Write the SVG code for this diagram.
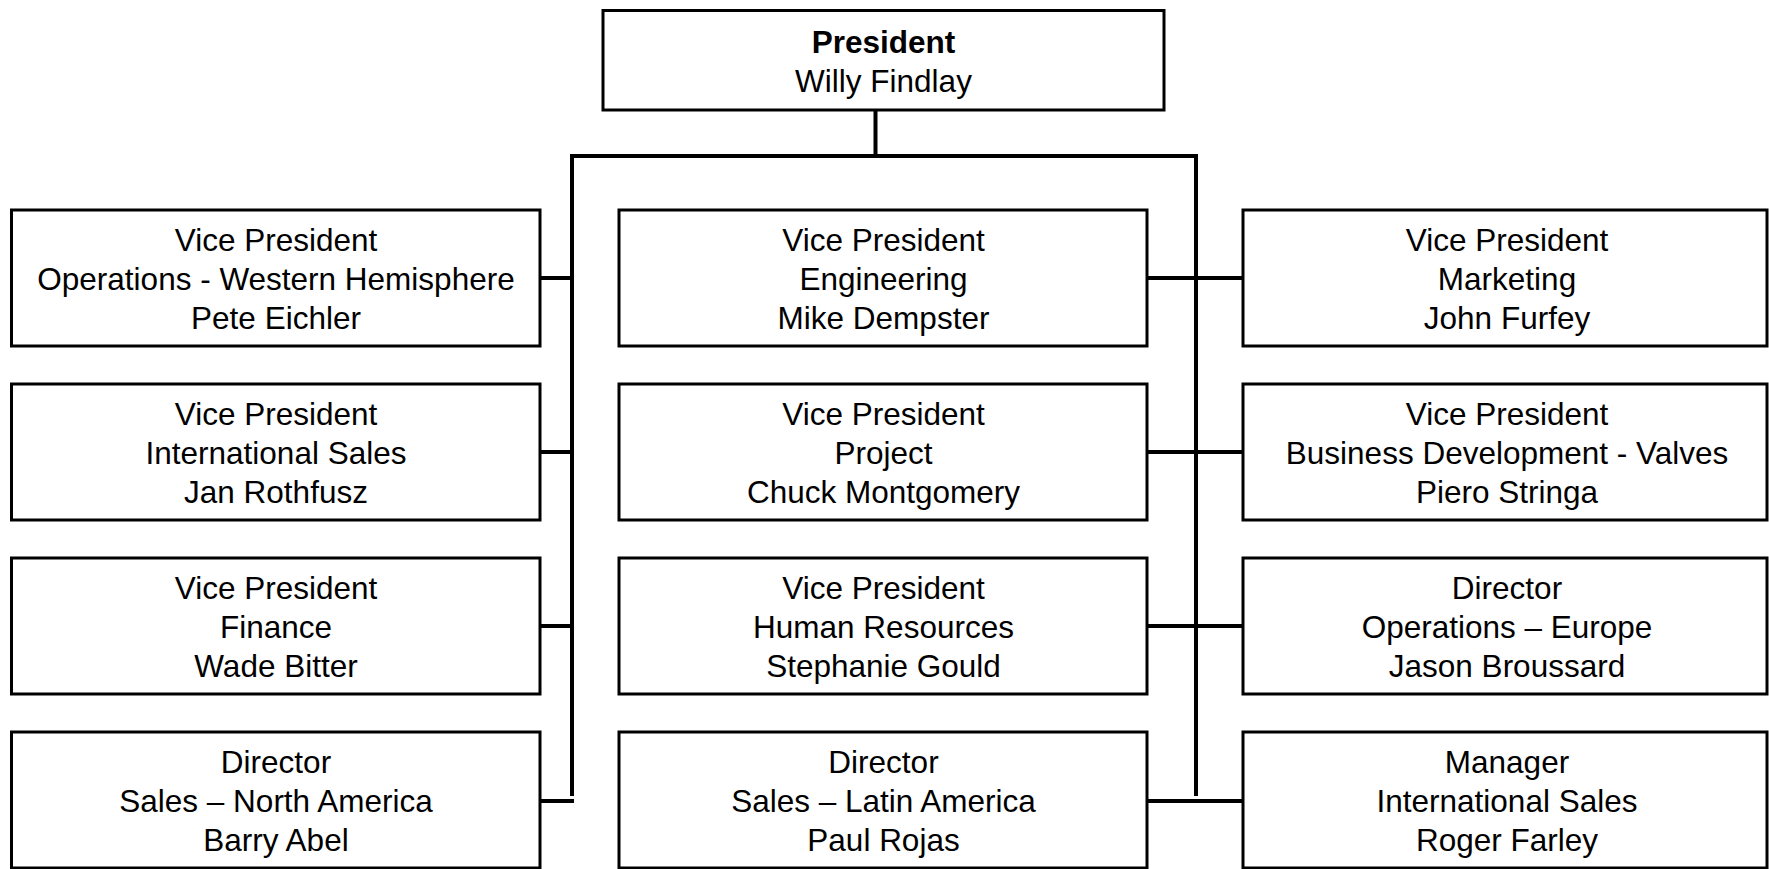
<svg xmlns="http://www.w3.org/2000/svg" width="1769" height="869" viewBox="0 0 1769 869">
<style>
.box{fill:#fff;stroke:#000;stroke-width:3}
.ln{stroke:#000;stroke-width:4;fill:none}
text{font-family:"Liberation Sans",Arial,sans-serif;font-size:31.5px;fill:#000;text-anchor:middle}
.b{font-weight:bold}
</style>
<rect width="1769" height="869" fill="#fff"/>
<g id="connectors">
<line class="ln" x1="875.5" y1="110" x2="875.5" y2="156"/>
<line class="ln" x1="570" y1="156" x2="1198" y2="156"/>
<line class="ln" x1="572" y1="154" x2="572" y2="796"/>
<line class="ln" x1="1196" y1="154" x2="1196" y2="796"/>
<line class="ln" x1="540" y1="278" x2="572" y2="278"/>
<line class="ln" x1="540" y1="452" x2="572" y2="452"/>
<line class="ln" x1="540" y1="626" x2="572" y2="626"/>
<line class="ln" x1="540" y1="801" x2="574" y2="801"/>
<line class="ln" x1="1147" y1="278" x2="1243" y2="278"/>
<line class="ln" x1="1147" y1="452" x2="1243" y2="452"/>
<line class="ln" x1="1147" y1="626" x2="1243" y2="626"/>
<line class="ln" x1="1147" y1="801" x2="1243" y2="801"/>
</g>
<g id="president">
<rect class="box" x="603" y="10.5" width="561" height="99.5"/>
<text x="883.5" y="53" class="b">President</text>
<text x="883.5" y="92">Willy Findlay</text>
</g>
<g id="vp-ops-west">
<rect class="box" x="11.5" y="210" width="528.5" height="136"/>
<text x="276" y="250.5">Vice President</text>
<text x="276" y="289.5">Operations - Western Hemisphere</text>
<text x="276" y="328.5">Pete Eichler</text>
</g>
<g id="vp-intl-sales">
<rect class="box" x="11.5" y="384" width="528.5" height="136"/>
<text x="276" y="424.5">Vice President</text>
<text x="276" y="463.5">International Sales</text>
<text x="276" y="502.5">Jan Rothfusz</text>
</g>
<g id="vp-finance">
<rect class="box" x="11.5" y="558" width="528.5" height="136"/>
<text x="276" y="598.5">Vice President</text>
<text x="276" y="637.5">Finance</text>
<text x="276" y="676.5">Wade Bitter</text>
</g>
<g id="dir-sales-na">
<rect class="box" x="11.5" y="732" width="528.5" height="136"/>
<text x="276" y="772.5">Director</text>
<text x="276" y="811.5">Sales – North America</text>
<text x="276" y="850.5">Barry Abel</text>
</g>
<g id="vp-engineering">
<rect class="box" x="619" y="210" width="528" height="136"/>
<text x="883.5" y="250.5">Vice President</text>
<text x="883.5" y="289.5">Engineering</text>
<text x="883.5" y="328.5">Mike Dempster</text>
</g>
<g id="vp-project">
<rect class="box" x="619" y="384" width="528" height="136"/>
<text x="883.5" y="424.5">Vice President</text>
<text x="883.5" y="463.5">Project</text>
<text x="883.5" y="502.5">Chuck Montgomery</text>
</g>
<g id="vp-hr">
<rect class="box" x="619" y="558" width="528" height="136"/>
<text x="883.5" y="598.5">Vice President</text>
<text x="883.5" y="637.5">Human Resources</text>
<text x="883.5" y="676.5">Stephanie Gould</text>
</g>
<g id="dir-sales-la">
<rect class="box" x="619" y="732" width="528" height="136"/>
<text x="883.5" y="772.5">Director</text>
<text x="883.5" y="811.5">Sales – Latin America</text>
<text x="883.5" y="850.5">Paul Rojas</text>
</g>
<g id="vp-marketing">
<rect class="box" x="1243" y="210" width="524" height="136"/>
<text x="1507" y="250.5">Vice President</text>
<text x="1507" y="289.5">Marketing</text>
<text x="1507" y="328.5">John Furfey</text>
</g>
<g id="vp-bizdev">
<rect class="box" x="1243" y="384" width="524" height="136"/>
<text x="1507" y="424.5">Vice President</text>
<text x="1507" y="463.5">Business Development - Valves</text>
<text x="1507" y="502.5">Piero Stringa</text>
</g>
<g id="dir-ops-europe">
<rect class="box" x="1243" y="558" width="524" height="136"/>
<text x="1507" y="598.5">Director</text>
<text x="1507" y="637.5">Operations – Europe</text>
<text x="1507" y="676.5">Jason Broussard</text>
</g>
<g id="mgr-intl-sales">
<rect class="box" x="1243" y="732" width="524" height="136"/>
<text x="1507" y="772.5">Manager</text>
<text x="1507" y="811.5">International Sales</text>
<text x="1507" y="850.5">Roger Farley</text>
</g>
</svg>
